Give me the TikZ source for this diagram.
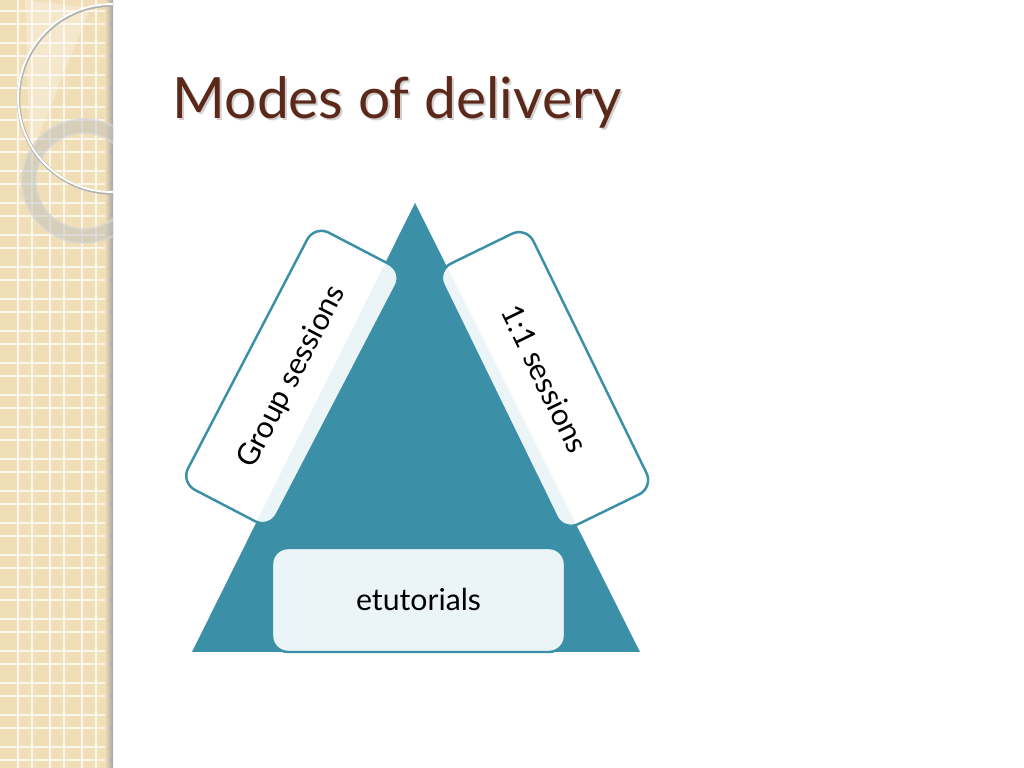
\documentclass[tikz,border=0pt]{standalone}
\usepackage{fontspec}
\setmainfont{Lato}
\definecolor{teal}{HTML}{3B8FA6}
\definecolor{brownT}{HTML}{5C2819}
\definecolor{beige}{HTML}{F0DEB6}
\definecolor{cream}{HTML}{FBF6EA}
\begin{document}
\begin{tikzpicture}[
  sidebox/.style={draw=teal, line width=0.7pt, fill=white, fill opacity=0.9,
    text opacity=1, rounded corners=0.16cm, minimum width=2.9cm,
    minimum height=1.0cm, font=\fontsize{8.6}{10}\selectfont},
  basebox/.style={sidebox, minimum width=2.93cm, minimum height=1.04cm},
  gridline/.style={cream, line width=0.5pt}]
          \useasboundingbox (0,0) rectangle (10.24,7.68);
          \fill [white] (0,0) rectangle (10.24,7.68);
          % left strip
          \fill [beige] (0,0) rectangle (1.13,7.68);
          \foreach \x in {0.18,0.50,0.82}
            \draw [gridline] (\x,0) -- (\x,7.68) (\x+0.14,0) -- (\x+0.14,7.68);
          \foreach \y in {0.08,0.40,...,7.68}
            \draw [gridline] (0,\y) -- (1.13,\y) (0,\y+0.13) -- (1.13,\y+0.13);
          \shade [left color=beige, right color=black!35] (1.05,0) rectangle (1.13,7.68);
          \begin{scope}
            \clip (0,0) rectangle (1.13,7.68);
            \fill [white, opacity=0.3] (0.3,6.1) -- (0.9,7.6) -- (0.25,7.68) -- cycle;
            \draw [black!25, line width=0.14cm, opacity=0.5] (0.84,5.87) circle (0.55);
            \draw [white!85!black, line width=0.02cm, opacity=0.6] (0.84,5.87) circle (0.62);
            \draw [white!85!black, line width=0.02cm, opacity=0.6] (0.84,5.87) circle (0.48);
            \draw [black!30, line width=0.035cm] (1.125,6.69) circle (0.94);
            \draw [white!90!beige, line width=0.02cm] (1.12,6.70) circle (0.94);
          \end{scope}
          % title
          \node [anchor=base west, inner sep=0, text=black!30, opacity=0.6,
            font=\fontsize{16.2}{20}\selectfont] (shadow) at (1.74,6.47) {Modes of delivery};
          \node [anchor=base west, inner sep=0, text=brownT,
            font=\fontsize{16.2}{20}\selectfont] (title) at (1.72,6.49) {Modes of delivery};
          % pyramid
          \coordinate (apex) at (4.15,5.65);
          \coordinate (left) at (1.92,1.16);
          \coordinate (right) at (6.40,1.16);
          \fill [teal] (apex) -- (left) -- (right) -- cycle;
          \node [sidebox, rotate=62.5] (group) at (2.92,3.91) {Group sessions};
          \node [sidebox, rotate=-64] (one) at (5.45,3.89) {1:1 sessions};
          \node [basebox] (etut) at (4.185,1.68) {etutorials};
        \end{tikzpicture}
\end{document}
